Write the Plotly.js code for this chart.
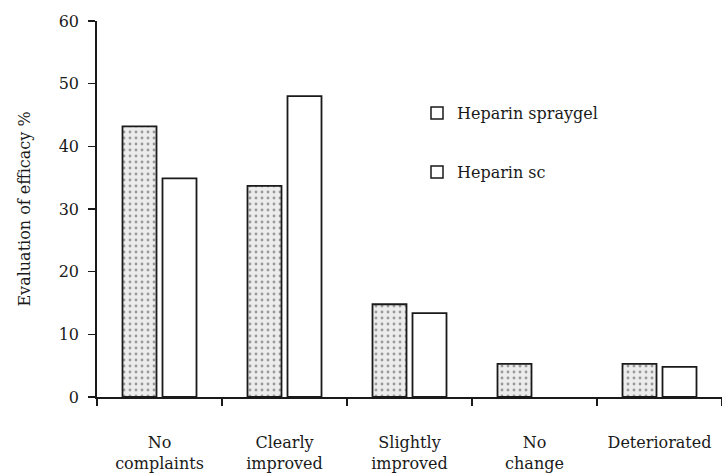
<!DOCTYPE html>
<html>
<head>
<meta charset="utf-8">
<script src="https://cdn.plot.ly/plotly-3.0.1.min.js"></script>
<style>
  html, body { margin: 0; padding: 0; background: #fff; }
  #chart { width: 722px; height: 476px; }
</style>
</head>
<body>
<div id="chart"></div>
<script>
const categories = ['No complaints', 'Clearly improved', 'Slightly improved', 'No change', 'Deteriorated'];
const tickLabels = ['No<br>complaints', 'Clearly<br>improved', 'Slightly<br>improved', 'No<br>change', 'Deteriorated'];
const spraygel = [43.2, 33.7, 14.8, 5.3, 5.3];
const heparinSc = [34.9, 48.0, 13.4, null, 4.8];
const seriesNames = ['Heparin spraygel', 'Heparin sc'];
const yTicks = [0, 10, 20, 30, 40, 50, 60];

const FONT = 'DejaVu Serif, Liberation Serif, serif';
const INK = '#1a1a1a';

const traces = [
  {
    type: 'bar', x: categories, y: spraygel, name: seriesNames[0],
    showlegend: false,
    marker: {
      color: '#e6e6e6',
      line: { color: INK, width: 1.8 },
      pattern: { shape: '.', bgcolor: '#ececec', fgcolor: '#9a9a9a', size: 6, solidity: 0.18 }
    },
    hoverinfo: 'skip'
  },
  {
    type: 'bar', x: categories, y: heparinSc, name: seriesNames[1],
    showlegend: false,
    marker: { color: '#ffffff', line: { color: INK, width: 1.8 } },
    hoverinfo: 'skip'
  },
  // legend entries (hollow squares as in the reference)
  {
    type: 'scatter', mode: 'markers', x: [null], y: [null], name: seriesNames[0], legendgroup: 'a',
    marker: { symbol: 'square', size: 12, color: '#ffffff', line: { color: INK, width: 1.5 } }
  },
  {
    type: 'scatter', mode: 'markers', x: [null], y: [null], name: seriesNames[1], legendgroup: 'b',
    marker: { symbol: 'square', size: 12, color: '#ffffff', line: { color: INK, width: 1.5 } }
  }
];

const layout = {
  width: 722, height: 476,
  margin: { l: 97, r: 0, t: 21, b: 79 },
  paper_bgcolor: '#ffffff', plot_bgcolor: '#ffffff',
  font: { family: FONT, size: 16, color: INK },
  barmode: 'group',
  bargap: 0.36,
  bargroupgap: 0.15,
  showlegend: true,
  legend: {
    x: 0.512, y: 0.80, xanchor: 'left', yanchor: 'top',
    bgcolor: 'rgba(0,0,0,0)', borderwidth: 0,
    tracegroupgap: 35,
    font: { family: FONT, size: 16, color: INK }
  },
  xaxis: {
    type: 'category',
    categoryorder: 'array', categoryarray: categories,
    tickvals: categories, ticktext: tickLabels,
    tickson: 'boundaries',
    ticks: 'outside', ticklen: 7, tickwidth: 1.5, tickcolor: INK,
    showline: true, linecolor: INK, linewidth: 1.8,
    showgrid: false, zeroline: false,
    ticklabelstandoff: 30,
    tickfont: { family: FONT, size: 16, color: INK },
    range: [-0.5, 4.5],
    fixedrange: true
  },
  yaxis: {
    range: [0, 60],
    tickvals: yTicks,
    ticks: 'outside', ticklen: 7, tickwidth: 1.5, tickcolor: INK,
    showline: true, linecolor: INK, linewidth: 1.8,
    showgrid: false, zeroline: false,
    ticklabelstandoff: 6,
    tickfont: { family: FONT, size: 16, color: INK },
    title: { text: 'Evaluation of efficacy %', font: { family: FONT, size: 16, color: INK }, standoff: 24 },
    fixedrange: true
  }
};

Plotly.newPlot('chart', traces, layout, { displayModeBar: false, staticPlot: true });
</script>
</body>
</html>
